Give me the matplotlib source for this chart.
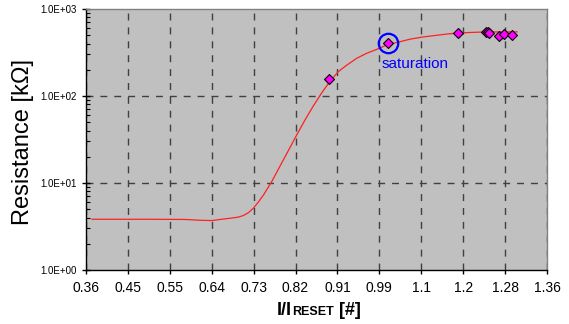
import matplotlib
matplotlib.use("Agg")
import matplotlib.pyplot as plt
import numpy as np

plt.rcParams['font.family'] = ['Liberation Sans', 'DejaVu Sans']

# fitted curve
curve_x = [0.373, 0.499, 0.575, 0.607, 0.633, 0.651, 0.672, 0.690, 0.701, 0.712,
           0.723, 0.734, 0.745, 0.763, 0.781, 0.799, 0.817, 0.835, 0.853, 0.871,
           0.889, 0.907, 0.926, 0.947, 0.969, 0.991, 1.012, 1.034, 1.063, 1.090,
           1.117, 1.142, 1.167, 1.204, 1.230, 1.295]
curve_y = [3.83, 3.83, 3.81, 3.73, 3.70, 3.81, 3.93, 4.05, 4.22, 4.55,
           5.12, 6.05, 7.28, 10.4, 15.7, 23.6, 35.6, 53.0, 76.7, 108,
           147, 190, 227, 271, 310, 344, 385, 412, 450, 476,
           496, 515, 530, 540, 544, 546]

# measured points
meas_x = [0.888, 1.016, 1.168, 1.227, 1.231, 1.234, 1.256, 1.267, 1.284]
meas_y = [158, 404, 535, 548, 540, 530, 490, 512, 499]

sat_x, sat_y = 1.016, 404

xticks = np.linspace(0.36, 1.36, 12)
xlabels = ['0.36', '0.45', '0.55', '0.64', '0.73', '0.82', '0.91', '0.99',
           '1.1', '1.2', '1.28', '1.36']
yticks = [1, 10, 100, 1000]
ylabels = ['1.0E+00', '1.0E+01', '1.0E+02', '1.0E+03']

fig = plt.figure(figsize=(5.69, 3.24), dpi=100)
ax = fig.add_axes([86/569, 1-270/324, 461/569, 261/324])
ax.set_facecolor('#C0C0C0')

ax.set_yscale('log')
ax.set_xlim(0.36, 1.36)
ax.set_ylim(1, 1000)

ax.set_xticks(xticks)
ax.set_xticklabels(xlabels, fontsize=10)
ax.set_yticks(yticks)
ax.set_yticklabels(ylabels, fontsize=7)
ax.yaxis.set_minor_locator(matplotlib.ticker.LogLocator(base=10, subs=np.arange(2, 10)))
ax.yaxis.set_minor_formatter(matplotlib.ticker.NullFormatter())

ax.tick_params(axis='x', direction='out', length=3, width=1, pad=5)
ax.tick_params(axis='y', which='major', direction='inout', length=6, width=1, pad=4)
ax.tick_params(axis='y', which='minor', direction='in', length=3, width=0.8)

# grid
ax.grid(axis='x', color='#404040', linestyle=(0, (5, 5)), linewidth=1)
for v in [10, 100]:
    ax.axhline(v, color='#404040', linestyle=(0, (5, 5)), linewidth=1, zorder=1)

for s in ['left', 'bottom']:
    ax.spines[s].set_color('black')
    ax.spines[s].set_linewidth(1)
for s in ['top', 'right']:
    ax.spines[s].set_color('#808080')
    ax.spines[s].set_linewidth(1)

ax.plot(curve_x, curve_y, color='#FF2020', linewidth=0.9, zorder=3)
ax.plot(meas_x, meas_y, linestyle='none', marker='D', markersize=5,
        markerfacecolor='#FF00FF', markeredgecolor='black', markeredgewidth=0.8, zorder=4)
ax.plot([sat_x], [sat_y], marker='o', markersize=14, markerfacecolor='none',
        markeredgecolor='#0000FF', markeredgewidth=1.6, zorder=5)
ax.annotate('saturation', xy=(sat_x, sat_y), xytext=(-5, -17.5), textcoords='offset points',
            color='#0000FF', fontsize=11, ha='left', va='baseline')

# y label
fig.text(28.5/569, 1-141.5/324, 'Resistance [k\u03a9]', rotation=90, rotation_mode='anchor',
         ha='center', va='baseline', fontsize=17)

# x label: I/I + small caps RESET + [#]
t1 = fig.text(277/569, 1-314.7/324, 'I/I', fontsize=13, fontweight='bold', ha='left', va='baseline')
t2 = ax.annotate('RESET', xy=(1, 0), xycoords=t1, xytext=(0.3, 0.85), textcoords='offset points',
                 fontsize=9, fontweight='bold', ha='left', va='bottom')
t3 = ax.annotate(' [#]', xy=(1, 0), xycoords=t2, xytext=(0, -0.85), textcoords='offset points',
                 fontsize=13, fontweight='bold', ha='left', va='bottom')

fig.savefig('out.png', dpi=100)
